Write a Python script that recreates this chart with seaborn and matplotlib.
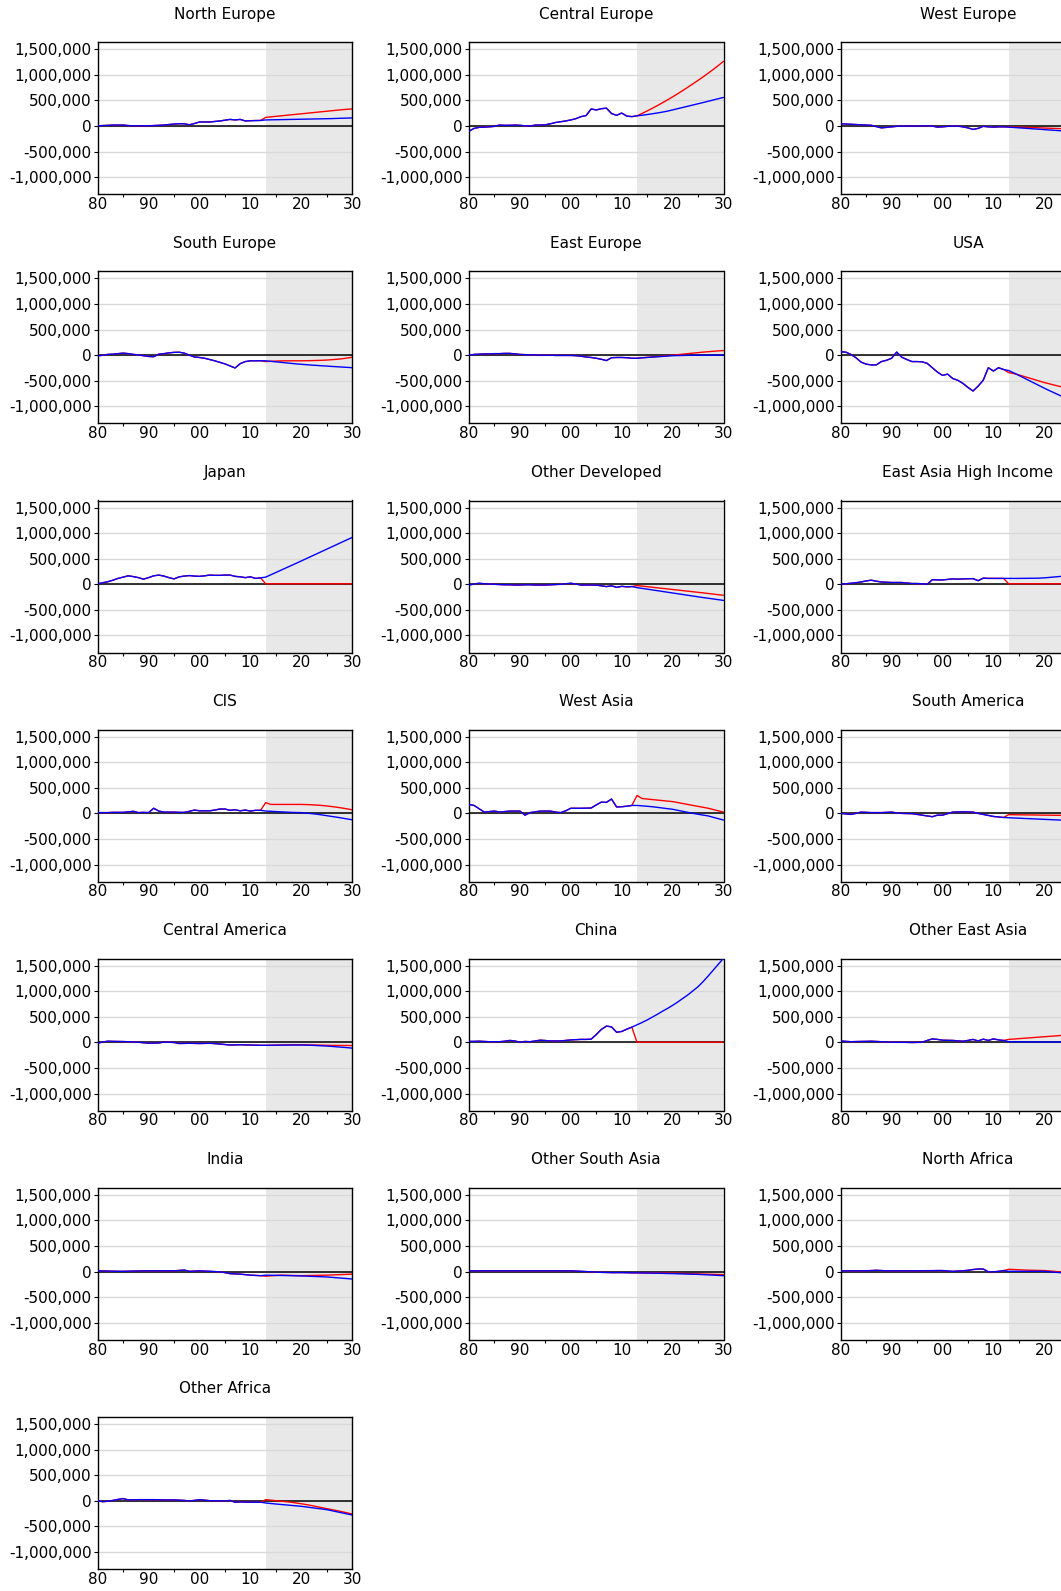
import numpy as np
import pandas as pd
import seaborn as sns
import matplotlib
matplotlib.use("Agg")
import matplotlib.pyplot as plt
from matplotlib.ticker import FuncFormatter, MultipleLocator

# region data (thousands)
hist_years = list(range(1980, 2013))
fc_years = list(range(2013, 2031))

north_europe_hist = [5, 10, 15, 20, 20, 20, 10, 5, 5, 5, 5, 10, 15, 20, 30, 40, 45, 45, 25, 50,
                     80, 80, 80, 90, 100, 115, 130, 120, 130, 100, 105, 108, 110]
north_europe_red = [170, 180, 190, 200, 210, 220, 230, 240, 250, 260, 270, 280, 290, 300, 310, 320, 328, 335]
north_europe_blue = [120, 122, 124, 126, 128, 130, 132, 134, 136, 138, 140, 142, 144, 146, 150, 153, 156, 160]

central_europe_hist = [-100, -45, -25, -20, -15, -5, 20, 15, 15, 20, 15, 5, 0, 20, 20, 25, 45, 70, 85, 100,
                       120, 145, 185, 205, 335, 315, 340, 350, 245, 210, 255, 195, 185]
central_europe_red = [200, 247, 296, 347, 400, 455, 512, 571, 632, 695, 760, 826, 893, 962, 1034, 1108, 1185, 1265]
central_europe_blue = [200, 212, 225, 240, 256, 273, 292, 316, 340, 364, 388, 412, 436, 460, 485, 510, 535, 560]

west_europe_hist = [45, 40, 35, 30, 25, 20, 15, -10, -35, -25, -15, -5, 0, 0, 0, 0, 5, 5, 0, -20,
                    -15, -5, 0, 0, -15, -35, -65, -45, -5, -15, -20, -15, -15]
west_europe_red = [-15, -18, -21, -24, -27, -30, -34, -38, -42, -46, -50, -54, -57, -60, -64, -67, -71, -75]
west_europe_blue = [-20, -27, -34, -41, -48, -55, -62, -69, -76, -83, -90, -97, -105, -112, -119, -126, -133, -140]

south_europe_hist = [-15, 0, 15, 20, 30, 40, 30, 15, 5, -10, -25, -30, 20, 30, 45, 55, 58, 40, 0, -35,
                     -45, -60, -85, -110, -140, -170, -210, -250, -165, -125, -110, -110, -110]
south_europe_red = [-125, -120, -115, -112, -110, -110, -110, -110, -108, -106, -103, -100, -95, -88, -80, -70, -56, -40]
south_europe_blue = [-110, -120, -130, -140, -150, -160, -170, -178, -186, -194, -200, -207, -213, -220, -226, -232, -238, -245]

east_europe_hist = [0, 15, 20, 25, 25, 30, 30, 35, 35, 25, 15, 10, 5, 5, 0, 0, 0, -5, -5, -5,
                    -5, -10, -20, -35, -45, -60, -80, -105, -50, -45, -45, -50, -60]
east_europe_red = [-60, -50, -42, -34, -26, -18, -9, 0, 10, 20, 30, 40, 50, 60, 68, 76, 84, 90]
east_europe_blue = [-60, -52, -45, -38, -31, -24, -17, -10, -7, -5, -3, -2, -1, 0, 0, 0, 0, 0]

usa_hist = [65, 60, 15, -50, -135, -175, -190, -190, -125, -100, -60, 60, -40, -85, -125, -125, -130, -160, -245, -330,
            -395, -370, -455, -490, -550, -630, -700, -605, -490, -245, -310, -245, -280]
usa_red = [-340, -360, -385, -415, -445, -475, -505, -535, -560, -585, -610, -630, -650, -668, -685, -700, -715, -730]
usa_blue = [-300, -345, -395, -445, -495, -545, -595, -645, -692, -738, -784, -830, -875, -920, -965, -1010, -1055, -1100]

japan_hist = [10, 30, 50, 80, 115, 140, 165, 150, 130, 100, 130, 165, 180, 160, 130, 105, 145, 160, 170, 160,
              155, 165, 180, 175, 175, 180, 180, 155, 145, 130, 145, 115, 125]
japan_red = [10, 10, 10, 10, 10, 10, 10, 10, 10, 10, 10, 10, 10, 10, 10, 10, 10, 10]
japan_blue = [140, 185, 230, 275, 320, 365, 410, 456, 502, 548, 594, 640, 686, 732, 778, 824, 870, 915]

other_dev_hist = [-15, 5, 20, 10, 5, 0, -5, -10, -10, -15, -15, -10, -10, -15, -15, -15, -10, -5, 0, 10,
                  20, 5, -15, -15, -15, -15, -30, -45, -30, -60, -40, -50, -45]
other_dev_red = [-25, -36, -47, -58, -69, -80, -91, -102, -113, -124, -135, -146, -157, -168, -180, -192, -204, -215]
other_dev_blue = [-65, -80, -95, -110, -125, -140, -155, -170, -185, -200, -215, -230, -245, -260, -273, -287, -301, -315]

ea_high_hist = [0, 10, 20, 30, 45, 65, 80, 60, 45, 40, 35, 35, 35, 25, 15, 15, 10, 0, 90, 85,
                85, 95, 105, 100, 105, 108, 110, 70, 120, 115, 115, 115, 115]
ea_high_red = [10, 10, 10, 10, 10, 10, 10, 10, 10, 10, 10, 10, 10, 10, 10, 10, 10, 10]
ea_high_blue = [115, 115, 115, 116, 117, 118, 120, 126, 134, 143, 152, 161, 170, 179, 188, 197, 206, 215]

cis_hist = [15, 15, 15, 20, 20, 20, 30, 40, 15, 20, 15, 100, 45, 25, 25, 25, 20, 20, 40, 65,
            50, 50, 50, 65, 85, 85, 60, 70, 50, 65, 45, 60, 60]
cis_red = [210, 175, 175, 175, 175, 175, 175, 175, 172, 168, 162, 155, 145, 133, 120, 105, 88, 70]
cis_blue = [45, 40, 35, 30, 25, 20, 17, 15, 5, -5, -15, -30, -45, -60, -75, -92, -108, -125]

west_asia_hist = [175, 155, 90, 25, 35, 45, 25, 35, 45, 45, 45, -35, 15, 30, 45, 45, 45, 25, 15, 50,
                  100, 100, 100, 102, 105, 165, 220, 215, 280, 125, 130, 140, 155]
west_asia_red = [350, 290, 280, 270, 260, 250, 240, 230, 212, 193, 174, 155, 137, 119, 100, 75, 50, 25]
west_asia_blue = [155, 147, 139, 130, 118, 105, 92, 80, 60, 40, 20, 0, -17, -34, -50, -77, -104, -130]

south_america_hist = [0, -10, -20, 0, 25, 20, 15, 15, 15, 20, 25, 10, 0, -3, -5, -20, -35, -50, -65, -35,
                      -35, -5, 25, 28, 30, 28, 25, 0, -20, -40, -60, -70, -80]
south_america_red = [-25, -26, -28, -29, -30, -31, -33, -34, -35, -37, -38, -40, -41, -43, -44, -46, -48, -50]
south_america_blue = [-85, -90, -94, -99, -103, -108, -112, -117, -121, -126, -130, -135, -140, -145, -150, -160, -168, -175]

central_america_hist = [-15, 10, 25, 22, 20, 18, 15, 10, 5, -5, -15, -12, -10, 10, 5, 0, -20, -18, -15, -18,
                        -20, -18, -15, -22, -30, -40, -50, -48, -45, -48, -50, -52, -55]
central_america_red = [-55, -53, -51, -49, -47, -46, -45, -45, -46, -48, -50, -52, -55, -56, -57, -58, -59, -60]
central_america_blue = [-55, -54, -53, -52, -51, -50, -50, -50, -52, -55, -60, -65, -70, -77, -85, -93, -101, -110]

china_hist = [20, 22, 25, 20, 15, 15, 15, 25, 40, 30, 5, 20, 15, 30, 45, 38, 30, 30, 30, 40,
              50, 55, 60, 60, 65, 155, 255, 320, 305, 200, 215, 260, 300]
china_red = [5, 5, 5, 5, 5, 5, 5, 5, 5, 5, 5, 5, 5, 5, 5, 5, 5, 5]
china_blue = [345, 390, 440, 495, 550, 610, 665, 725, 790, 860, 930, 1010, 1090, 1190, 1300, 1415, 1530, 1645]

other_east_asia_hist = [30, 22, 15, 18, 20, 22, 25, 20, 15, 10, 5, 5, 5, 2, 0, 2, 5, 40, 70, 60,
                        45, 42, 40, 32, 25, 40, 60, 30, 65, 40, 70, 50, 40]
other_east_asia_red = [60, 67, 75, 82, 90, 97, 105, 112, 120, 127, 135, 143, 151, 159, 167, 175, 183, 190]
other_east_asia_blue = [15, 14, 13, 12, 12, 11, 11, 10, 10, 10, 10, 10, 10, 10, 10, 10, 10, 10]

india_hist = [15, 12, 10, 8, 6, 5, 8, 10, 12, 14, 15, 15, 15, 15, 15, 15, 22, 30, 5, 10,
              15, 10, 5, 0, -5, -20, -40, -45, -50, -60, -70, -75, -80]
india_red = [-90, -83, -77, -70, -72, -75, -78, -80, -78, -76, -74, -72, -70, -66, -62, -58, -54, -50]
india_blue = [-70, -72, -74, -76, -78, -80, -83, -85, -89, -93, -97, -101, -105, -113, -121, -129, -137, -145]

other_south_asia_hist = [15, 15, 15, 15, 15, 15, 15, 15, 15, 15, 15, 15, 15, 15, 15, 15, 15, 15, 15, 15,
                         15, 10, 5, 0, -5, -10, -15, -17, -20, -20, -20, -22, -25]
other_south_asia_red = [-25, -26, -26, -27, -28, -28, -29, -30, -33, -36, -39, -42, -45, -48, -51, -54, -57, -60]
other_south_asia_blue = [-25, -27, -29, -31, -33, -35, -38, -40, -43, -46, -49, -52, -55, -60, -65, -70, -75, -80]

north_africa_hist = [15, 15, 15, 15, 15, 15, 20, 25, 20, 15, 15, 15, 15, 15, 15, 15, 15, 18, 18, 20,
                     20, 12, 5, 10, 15, 25, 40, 50, 50, -5, -5, 5, 20]
north_africa_red = [45, 40, 35, 30, 27, 24, 22, 20, 12, 4, -5, -10, -15, -20, -25, -30, -35, -40]
north_africa_blue = [5, 5, 5, 5, 5, 5, 5, 5, -3, -12, -20, -24, -28, -32, -37, -42, -46, -50]

other_africa_hist = [0, -20, -10, 5, 25, 40, 15, 18, 20, 20, 20, 20, 18, 15, 15, 15, 10, 5, -5, 5,
                     20, 10, 0, -2, -4, -5, 5, -30, -25, -28, -30, -30, -30]
other_africa_red = [20, 10, 0, -10, -20, -30, -45, -60, -77, -95, -115, -135, -155, -175, -195, -215, -238, -260]
other_africa_blue = [-45, -55, -65, -74, -83, -92, -101, -110, -123, -136, -149, -162, -175, -196, -217, -238, -259, -280]

region_names = ['North Europe', 'Central Europe', 'West Europe',
                'South Europe', 'East Europe', 'USA',
                'Japan', 'Other Developed', 'East Asia High Income',
                'CIS', 'West Asia', 'South America',
                'Central America', 'China', 'Other East Asia',
                'India', 'Other South Asia', 'North Africa',
                'Other Africa']
# endregion

series = [
    (north_europe_hist, north_europe_red, north_europe_blue),
    (central_europe_hist, central_europe_red, central_europe_blue),
    (west_europe_hist, west_europe_red, west_europe_blue),
    (south_europe_hist, south_europe_red, south_europe_blue),
    (east_europe_hist, east_europe_red, east_europe_blue),
    (usa_hist, usa_red, usa_blue),
    (japan_hist, japan_red, japan_blue),
    (other_dev_hist, other_dev_red, other_dev_blue),
    (ea_high_hist, ea_high_red, ea_high_blue),
    (cis_hist, cis_red, cis_blue),
    (west_asia_hist, west_asia_red, west_asia_blue),
    (south_america_hist, south_america_red, south_america_blue),
    (central_america_hist, central_america_red, central_america_blue),
    (china_hist, china_red, china_blue),
    (other_east_asia_hist, other_east_asia_red, other_east_asia_blue),
    (india_hist, india_red, india_blue),
    (other_south_asia_hist, other_south_asia_red, other_south_asia_blue),
    (north_africa_hist, north_africa_red, north_africa_blue),
    (other_africa_hist, other_africa_red, other_africa_blue),
]

sns.set_theme(style="white")
plt.rcParams['font.family'] = ['DejaVu Sans']
plt.rcParams['font.size'] = 11
plt.rcParams['text.color'] = 'black'
plt.rcParams['xtick.color'] = 'black'
plt.rcParams['ytick.color'] = 'black'

W, H = 1061, 1591
fig = plt.figure(figsize=(W / 100, H / 100), dpi=100)

col_left = [97.7, 469.0, 840.7]
ax_w = 254.5
ax_h = 152.0
row_top0 = 42.3
row_step = 229.1

years = hist_years + fc_years


def year_label(v, p):
    return f'{int(round(v)) % 100:02d}'


def year_label_cut(v, p):
    # third column runs past the right edge of the picture: no label there
    if v > 2025:
        return ''
    return year_label(v, p)


for i, (name, (hist, red_fc, blue_fc)) in enumerate(zip(region_names, series)):
    r, c = divmod(i, 3)
    top = row_top0 + r * row_step
    ax = fig.add_axes([col_left[c] / W, 1 - (top + ax_h) / H, ax_w / W, ax_h / H])

    df = pd.DataFrame({
        'year': years,
        'red': [v * 1000 for v in hist + red_fc],
        'blue': [v * 1000 for v in hist + blue_fc],
    })

    ax.axvspan(2013, 2030, color='#E8E8E8', zorder=0, lw=0)
    ax.set_axisbelow(True)
    ax.yaxis.grid(True, color='#D9D9D9', linewidth=1.0)
    ax.xaxis.grid(False)
    ax.axhline(0, color='black', linewidth=1.1, zorder=1)

    sns.lineplot(data=df, x='year', y='red', ax=ax, color='#FF0000', linewidth=1.0, zorder=2)
    sns.lineplot(data=df, x='year', y='blue', ax=ax, color='#0000FF', linewidth=1.0, zorder=3)

    ax.set_xlim(1980, 2030)
    ax.set_ylim(-1333000, 1637000)
    ax.set_yticks([-1000000, -500000, 0, 500000, 1000000, 1500000])
    ax.yaxis.set_major_formatter(FuncFormatter(lambda v, p: f'{v:,.0f}'))
    ax.xaxis.set_major_locator(MultipleLocator(10))
    ax.xaxis.set_minor_locator(MultipleLocator(5))
    ax.xaxis.set_major_formatter(FuncFormatter(year_label_cut if c == 2 else year_label))

    ax.tick_params(axis='y', which='major', direction='out', length=3, width=0.8,
                   color='black', pad=1.5, labelsize=11, left=True, labelcolor='black')
    ax.tick_params(axis='x', which='both', direction='out', length=2.5, width=0.8,
                   color='black', pad=2, labelsize=11, bottom=True, labelcolor='black')
    ax.tick_params(axis='x', which='major', length=0)

    for sp in ax.spines.values():
        sp.set_color('black')
        sp.set_linewidth(1.0)

    ax.set_xlabel('')
    ax.set_ylabel('')
    ax.set_title(name, fontsize=11, pad=17, color='black')

fig.savefig('out.png', dpi=100)
